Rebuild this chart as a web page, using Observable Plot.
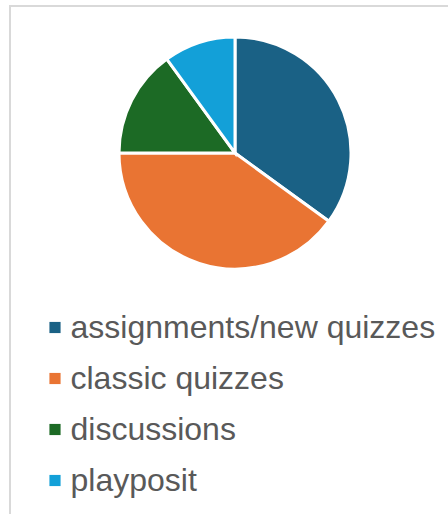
<!DOCTYPE html>
<html>
<head>
<meta charset="utf-8">
<script src="https://cdn.jsdelivr.net/npm/d3@7"></script>
<script src="https://cdn.jsdelivr.net/npm/@observablehq/plot@0.6"></script>
<style>
  html, body { margin: 0; padding: 0; background: #fff; overflow: hidden; }
  #wrap { position: relative; width: 448px; height: 514px; overflow: hidden; }
  #frame { position: absolute; left: 9px; top: 5px; width: 600px; height: 700px;
           border-top: 2px solid #d9d9d9; border-left: 2px solid #d9d9d9; }
  #chart { position: absolute; left: 0; top: 0; }
</style>
</head>
<body>
<div id="wrap"><div id="frame"></div><div id="chart"></div></div>
<script>
const categories = ["assignments/new quizzes", "classic quizzes", "discussions", "playposit"];
const shares = [35, 40, 15, 10];
const colors = ["#1a6185", "#e97433", "#1c6a25", "#13a0d8"];

const data = categories.map((c, i) => ({category: c, value: shares[i]}));

function pieMark(index, scales, values, dimensions) {
  const cx = 235, cy = 153, r = 116;
  const arcs = d3.pie().sort(null).value(d => d.value)(data);
  const arc = d3.arc().innerRadius(0).outerRadius(r);
  const g = d3.create("svg:g").attr("transform", `translate(${cx},${cy})`);
  g.selectAll("path").data(arcs).join("path")
    .attr("d", arc)
    .attr("fill", d => scales.color(d.data.category))
    .attr("stroke", "#fff")
    .attr("stroke-width", 3)
    .attr("stroke-linejoin", "miter");
  return g.node();
}

const chart = Plot.plot({
  width: 448,
  height: 514,
  margin: 0,
  style: {background: "transparent", fontFamily: "'Liberation Sans', Arial, sans-serif"},
  y: {type: "point", domain: categories, range: [326, 480], padding: 0, axis: null},
  color: {domain: categories, range: colors},
  marks: [
    pieMark,
    Plot.dot(categories, {y: d => d, fill: d => d, symbol: "square", r: 6.3, frameAnchor: "left", dx: 54.5}),
    Plot.text(categories, {y: d => d, text: d => d, frameAnchor: "left", dx: 70, textAnchor: "start",
      fontSize: 32, fill: "#595959"})
  ]
});
document.getElementById("chart").appendChild(chart);
</script>
</body>
</html>
